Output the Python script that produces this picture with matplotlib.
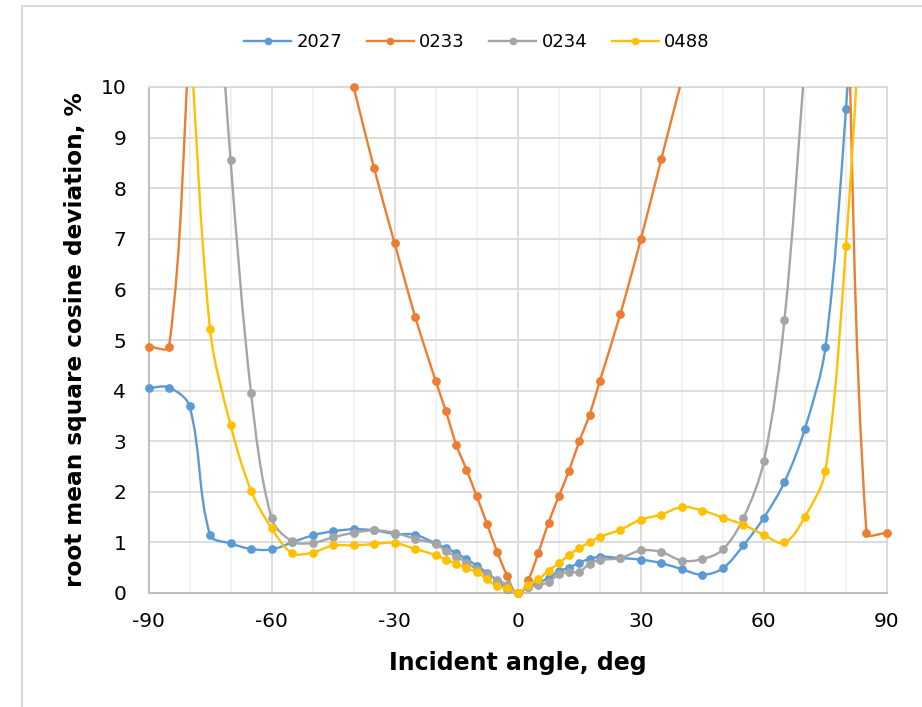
import numpy as np
import matplotlib
matplotlib.use("Agg")
import matplotlib.pyplot as plt
from matplotlib.path import Path
from matplotlib.patches import PathPatch, Rectangle
from matplotlib.lines import Line2D
from matplotlib.ticker import MultipleLocator

nan = np.nan

# incident angles, deg
angles = [-90, -85, -80, -75, -70, -65, -60, -55, -50, -45, -40, -35, -30, -25,
          -20, -17.5, -15, -12.5, -10, -7.5, -5, -2.5, 0, 2.5, 5, 7.5, 10, 12.5,
          15, 17.5, 20, 25, 30, 35, 40, 45, 50, 55, 60, 65, 70, 75, 80, 85, 90]

# root mean square cosine deviation, %
dev_2027 = [4.05, 4.06, 3.69, 1.15, 0.98, 0.87, 0.86, 1.00, 1.14, 1.22, 1.26, 1.24, 1.17, 1.15,
            0.98, 0.89, 0.79, 0.67, 0.54, 0.40, 0.24, 0.08, 0.00, 0.12, 0.20, 0.30, 0.43, 0.50,
            0.60, 0.67, 0.72, 0.69, 0.66, 0.59, 0.47, 0.36, 0.49, 0.94, 1.49, 2.19, 3.25, 4.86, 9.57, 16.0, nan]
dev_0233 = [4.87, 4.87, 10.9, nan, nan, nan, nan, nan, nan, nan, 10.0, 8.39, 6.91, 5.46,
            4.19, 3.59, 2.93, 2.44, 1.91, 1.37, 0.81, 0.33, 0.00, 0.25, 0.79, 1.39, 1.91, 2.42,
            3.00, 3.52, 4.19, 5.51, 6.99, 8.58, 10.15, nan, nan, nan, nan, nan, nan, nan, 13.0, 1.19, 1.19]
dev_0234 = [nan, nan, nan, 14.5, 8.56, 3.95, 1.48, 1.02, 0.99, 1.10, 1.19, 1.24, 1.19, 1.07,
            0.97, 0.83, 0.72, 0.60, 0.47, 0.38, 0.26, 0.16, 0.00, 0.12, 0.15, 0.22, 0.37, 0.42,
            0.42, 0.58, 0.65, 0.69, 0.84, 0.81, 0.64, 0.67, 0.86, 1.48, 2.61, 5.39, 10.5, nan, nan, nan, nan]
dev_0488 = [nan, nan, 11.2, 5.21, 3.32, 2.02, 1.28, 0.79, 0.80, 0.94, 0.94, 0.97, 0.99, 0.87,
            0.75, 0.66, 0.58, 0.49, 0.41, 0.27, 0.13, 0.10, 0.00, 0.16, 0.27, 0.44, 0.59, 0.75,
            0.89, 1.00, 1.11, 1.25, 1.45, 1.55, 1.70, 1.63, 1.49, 1.35, 1.15, 1.00, 1.51, 2.42, 6.86, 13.5, nan]

series_names = ["2027", "0233", "0234", "0488"]
series_values = [dev_2027, dev_0233, dev_0234, dev_0488]
colors = ["#5B9BD5", "#ED7D31", "#A5A5A5", "#FFC000"]

plt.rcParams["font.family"] = ["DejaVu Sans"]
plt.rcParams["axes.unicode_minus"] = False


def smooth_path(ax, xs, ys):
    """Bezier path through the points, broken at NaN gaps.

    Tangents follow the neighbouring points; handle lengths are a third of the
    segment length measured on screen, so short segments next to steep jumps
    stay tight.
    """
    xs = np.asarray(xs, float)
    ys = np.asarray(ys, float)
    to_px = ax.transData
    ok = ~np.isnan(ys)
    verts, codes = [], []
    n = len(xs)
    i = 0
    while i < n:
        if not ok[i]:
            i += 1
            continue
        j = i
        while j + 1 < n and ok[j + 1]:
            j += 1
        pts = to_px.transform(np.column_stack([xs[i:j + 1], ys[i:j + 1]]))
        m = len(pts)
        tang = []
        for k in range(m):
            a = pts[k - 1] if k > 0 else pts[k]
            b = pts[k + 1] if k + 1 < m else pts[k]
            d = b - a
            ln = np.hypot(*d)
            tang.append(d / ln if ln > 0 else d)
        seg_v = [pts[0]]
        seg_c = [Path.MOVETO]
        if m == 1:
            seg_v.append(pts[0]); seg_c.append(Path.LINETO)
        for k in range(m - 1):
            p1, p2 = pts[k], pts[k + 1]
            h = np.hypot(*(p2 - p1)) / 3.0
            c1 = p1 + tang[k] * h
            c2 = p2 - tang[k + 1] * h
            seg_v += [c1, c2, p2]
            seg_c += [Path.CURVE4] * 3
        verts += list(to_px.inverted().transform(np.array(seg_v)))
        codes += seg_c
        i = j + 1
    return Path(np.array(verts), codes)


fig = plt.figure(figsize=(9.22, 7.07), dpi=100)
ax = fig.add_axes([148.5 / 922, 114 / 707, (887 - 148.5) / 922, (593 - 87) / 707])

# outer chart frame
fig.patches.append(Rectangle((22 / 922, -0.2), 1.2, 1.2 - 6 / 707,
                             transform=fig.transFigure, fill=False,
                             edgecolor="#D9D9D9", lw=1.5, zorder=0))

ax.set_xlim(-90, 90)
ax.set_ylim(0, 10)
ax.xaxis.set_major_locator(MultipleLocator(30))
ax.xaxis.set_minor_locator(MultipleLocator(10))
ax.yaxis.set_major_locator(MultipleLocator(1))

ax.grid(which="major", axis="both", color="#D9D9D9", lw=1.3, zorder=0)
ax.grid(which="minor", axis="x", color="#EEEEEE", lw=1.1, zorder=0)
ax.set_axisbelow(True)

ax.tick_params(which="both", length=0)
ax.tick_params(axis="x", pad=14, labelsize=14.5, colors="#000000")
ax.tick_params(axis="y", pad=16, labelsize=14.5, colors="#000000")

for side in ("top", "right"):
    ax.spines[side].set_color("#D9D9D9")
    ax.spines[side].set_linewidth(1.3)
for side in ("left", "bottom"):
    ax.spines[side].set_color("#BFBFBF")
    ax.spines[side].set_linewidth(1.4)

handles = []
for z, (name, vals, c) in enumerate(zip(series_names, series_values, colors)):
    patch = PathPatch(smooth_path(ax, angles, vals), fill=False, edgecolor=c,
                      lw=1.7, zorder=3 + z, capstyle="round", joinstyle="round")
    ax.add_patch(patch)
    arr = np.asarray(vals, float)
    shown = np.where(arr <= 10.0, arr, np.nan)
    ax.plot(angles, shown, linestyle="none", marker="o", ms=6.3, color=c,
            markeredgewidth=0, zorder=3 + z + 0.5, clip_on=False)
    handles.append(Line2D([], [], color=c, lw=1.7, marker="o", ms=5.5,
                          markeredgewidth=0))

ax.set_xlabel("Incident angle, deg", fontsize=17, fontweight="bold", labelpad=14)
ax.set_ylabel("root mean square cosine deviation, %", fontsize=16.7,
              fontweight="bold", labelpad=10)

fig.legend(handles, series_names, loc="center", bbox_to_anchor=(477 / 922, 1 - 42 / 707),
           ncol=4, frameon=False, fontsize=13, handlelength=2.6,
           handletextpad=0.3, columnspacing=1.35)

fig.savefig("out.png", dpi=100)
